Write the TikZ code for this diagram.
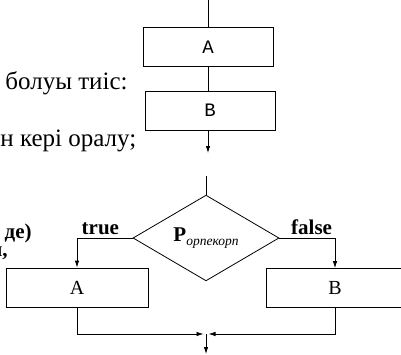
\documentclass[tikz,border=0pt]{standalone}
\usepackage{fontspec}
\setmainfont{Liberation Serif}
\setmonofont{Liberation Mono}
\usetikzlibrary{shapes.geometric,arrows.meta}

\tikzset{
  blok/.style={draw, minimum width=130pt, minimum height=39pt, inner sep=0pt, font=\ttfamily\fontsize{19}{19}\selectfont},
  blokbig/.style={draw, minimum height=39pt, inner sep=0pt, font=\fontsize{20}{20}\selectfont},
  shart/.style={draw, shape=diamond, minimum width=146pt, minimum height=80pt, inner sep=0pt},
  matin/.style={inner sep=0pt, font=\fontsize{25}{25}\selectfont},
  qalyn/.style={inner sep=0pt, font=\bfseries\fontsize{21}{21}\selectfont},
  >={Latex[length=7pt,width=4.5pt]}
}

\begin{document}
\begin{tikzpicture}[x=1pt,y=-1pt,line width=0.8pt]
\useasboundingbox[clip] (0,0) rectangle (401,354);

% sheet text
\node[matin, anchor=base east] (t1) at (128,89) {болуы тиіс:};
\node[matin, anchor=base west] (t2) at (0,146) {н кері оралу;};
\node[qalyn, anchor=base east] (t3) at (32,238) {де)};
\node[qalyn, anchor=base east] (t4) at (8,256) {н,};

% sequence
\coordinate (s0) at (208,0);
\node[blok] (a1) at (208,47) {A};
\node[blok] (b1) at (210,110.5) {B};
\coordinate (s1) at (208,153);

\draw (s0) -- (a1.north);
\draw (a1.south) -- (a1.south |- b1.north);
\draw[->] (a1.south |- b1.south) -- (s1);

% branching
\coordinate (s2) at (206,176);
\node[shart] (p) at (206,238) {\textbf{\fontsize{21}{21}\selectfont P}\raisebox{-4pt}{\fontsize{13.5}{13.5}\selectfont\itshape орпекорп}};
\node[blokbig, minimum width=142pt] (a2) at (77,287.5) {A};
\node[blokbig, minimum width=137pt] (b2) at (335,288) {B};
\coordinate (j) at (206,334);
\coordinate (s3) at (206,354);

\draw (s2) -- (p.north);
\draw[->] (p.west) -| (a2.north) node[qalyn, pos=0.29, above=3pt] {true};
\draw[->] (p.east) -| (b2.north) node[qalyn, pos=0.29, above=3pt] {false};
\draw[->, shorten >=2.5pt] (a2.south) |- (j);
\draw[->, shorten >=2.5pt] (b2.south) |- (j);
\draw[->] (j) -- (s3);

\end{tikzpicture}
\end{document}
